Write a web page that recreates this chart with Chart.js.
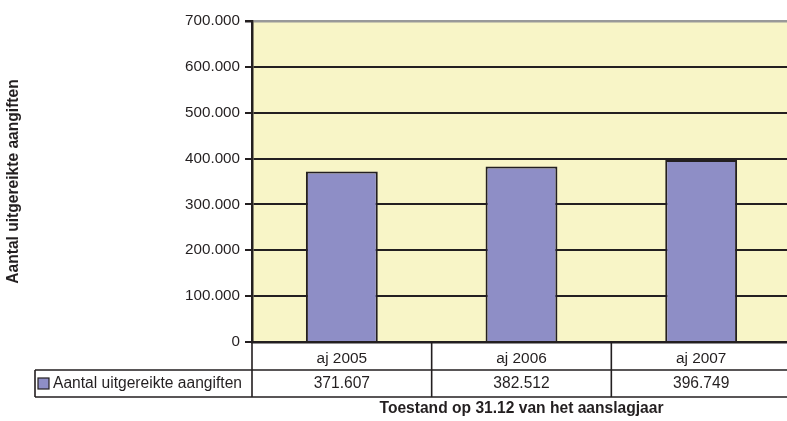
<!DOCTYPE html>
<html>
<head>
<meta charset="utf-8">
<script src="https://cdn.jsdelivr.net/npm/chart.js@4/dist/chart.umd.min.js"></script>
<style>
  html, body { margin: 0; padding: 0; background: #fff; overflow: hidden; }
  #wrap { width: 791px; height: 421px; }
</style>
</head>
<body>
<div id="wrap"><canvas id="myChart" width="791" height="421"></canvas></div>
<script>
// data
let categories = ["aj 2005", "aj 2006", "aj 2007"];
let values = [371607, 382512, 396749];
let seriesName = "Aantal uitgereikte aangiften";
let yTitle = "Aantal uitgereikte aangiften";
let xTitle = "Toestand op 31.12 van het aanslagjaar";

const FONT = "'Liberation Sans', Arial, sans-serif";
const barColor = "#8e8ec6";
const dark = "#231f20";

function fmt(v) {
    return v.toString().replace(/\B(?=(\d{3})+(?!\d))/g, ".");
}

// data table + x title under the plot
const tablePlugin = {
    id: 'dataTable',
    afterDraw(chart) {
        const ctx = chart.ctx;
        const x = chart.scales.x;
        const area = chart.chartArea;
        const rowTop = x.bottom;          // top of value row
        const rowBot = rowTop + 27;
        const legLeft = 35;
        ctx.save();
        ctx.strokeStyle = dark;
        ctx.lineWidth = 1.6;
        ctx.beginPath();
        // horizontal lines
        ctx.moveTo(legLeft, rowTop); ctx.lineTo(area.right, rowTop);
        ctx.moveTo(legLeft, rowBot); ctx.lineTo(area.right, rowBot);
        // vertical lines
        ctx.moveTo(legLeft, rowTop); ctx.lineTo(legLeft, rowBot);
        ctx.moveTo(area.left, area.bottom); ctx.lineTo(area.left, rowBot);
        const step = (area.right - area.left) / categories.length;
        for (let i = 1; i <= categories.length; i++) {
            const lx = area.left + step * i;
            ctx.moveTo(lx, area.bottom); ctx.lineTo(lx, rowBot);
        }
        ctx.stroke();

        // legend key
        ctx.fillStyle = barColor;
        ctx.fillRect(38, rowTop + 8, 11, 11);
        ctx.lineWidth = 1.2;
        ctx.strokeRect(38, rowTop + 8, 11, 11);

        ctx.fillStyle = dark;
        ctx.font = "15.6px " + FONT;
        ctx.textBaseline = "middle";
        ctx.textAlign = "left";
        ctx.fillText(seriesName, 53, rowTop + 14);

        ctx.textAlign = "center";
        values.forEach((v, i) => {
            ctx.fillText(fmt(v), x.getPixelForValue(i), rowTop + 14);
        });

        ctx.font = "bold 15.6px " + FONT;
        ctx.fillText(xTitle, (area.left + area.right) / 2, rowBot + 12);
        ctx.restore();
    }
};

const bgPlugin = {
    id: 'plotBg',
    beforeDraw(chart) {
        const a = chart.chartArea;
        chart.ctx.save();
        chart.ctx.fillStyle = "#f8f5c7";
        chart.ctx.fillRect(a.left, a.top, a.right - a.left, a.bottom - a.top);
        chart.ctx.restore();
    }
};

let ctx1 = document.getElementById('myChart').getContext('2d');
let myChart = new Chart(ctx1, {
    type: 'bar',
    data: {
        labels: categories,
        datasets: [{
            label: seriesName,
            data: values,
            backgroundColor: barColor,
            borderColor: dark,
            borderWidth: 2,
            categoryPercentage: 1,
            barPercentage: 0.4
        }]
    },
    options: {
        responsive: false,
        animation: false,
        layout: { padding: { top: 21, bottom: 51, left: 0, right: 0 } },
        plugins: { legend: { display: false }, tooltip: { enabled: false } },
        scales: {
            x: {
                grid: { display: false },
                border: { display: true, color: dark, width: 2.5 },
                ticks: { color: dark, font: { family: FONT, size: 15.4 }, padding: 0, maxRotation: 0 },
                afterFit(scale) { scale.height = 28; }
            },
            y: {
                min: 0,
                max: 700000,
                ticks: {
                    stepSize: 100000,
                    color: dark,
                    padding: 5,
                    font: { family: FONT, size: 15.2 },
                    callback: (v) => fmt(v)
                },
                grid: {
                    color: (c) => c.tick && c.tick.value === 700000 ? "#999999" : dark,
                    lineWidth: (c) => c.tick && c.tick.value === 700000 ? 2.5 : 2,
                    tickLength: 7,
                    tickColor: dark
                },
                border: { display: true, color: dark, width: 2.5 },
                title: {
                    display: true,
                    text: yTitle,
                    color: dark,
                    font: { family: FONT, size: 15.6, weight: 'bold' },
                    padding: { top: 4, bottom: 0 }
                },
                afterFit(scale) { scale.width = 252; }
            }
        }
    },
    plugins: [bgPlugin, tablePlugin]
});
</script>
</body>
</html>
